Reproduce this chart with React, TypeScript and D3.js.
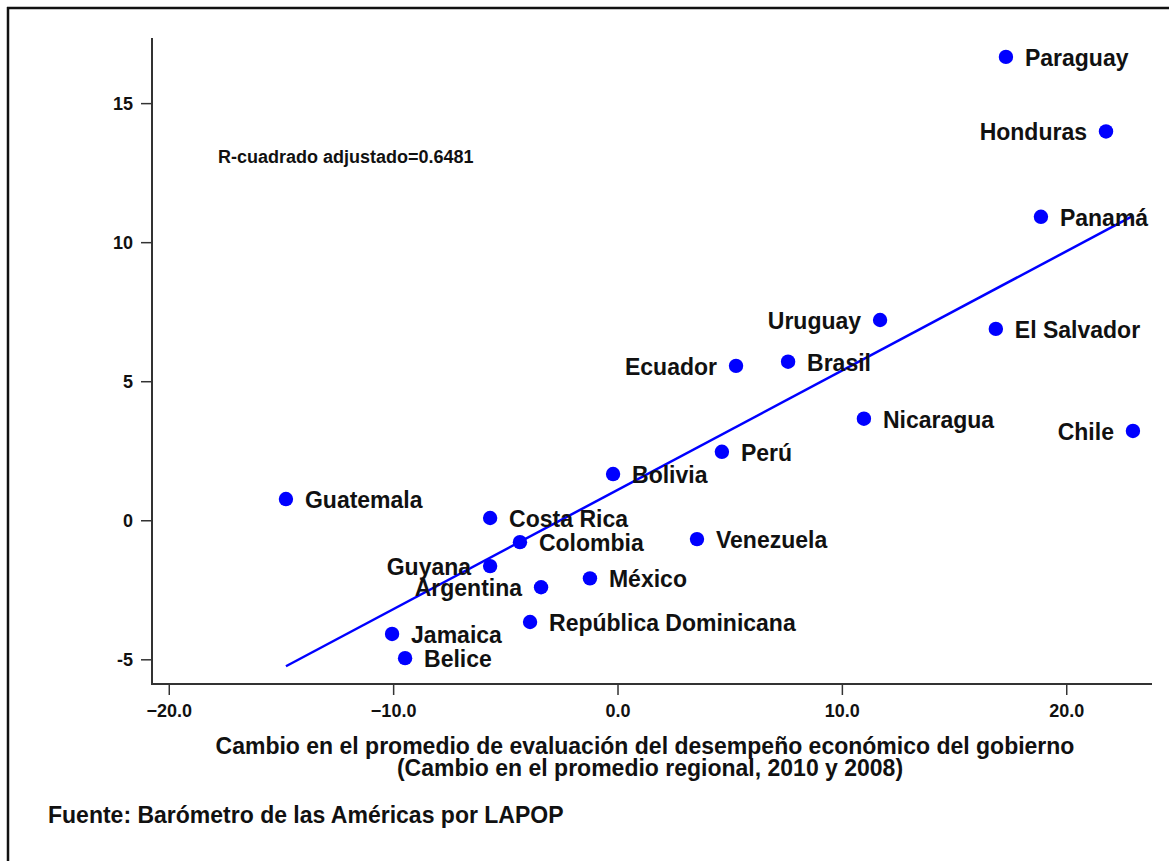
import React from "react";
import * as d3 from "d3";

const countries = [
  "Paraguay", "Honduras", "Panamá", "Uruguay", "El Salvador", "Ecuador", "Brasil",
  "Nicaragua", "Chile", "Perú", "Bolivia", "Guatemala", "Costa Rica", "Colombia",
  "Venezuela", "Guyana", "México", "Argentina", "República Dominicana", "Jamaica", "Belice",
];
const xValues = [
  17.29, 21.75, 18.85, 11.68, 16.84, 5.26, 7.58,
  10.96, 22.95, 4.63, -0.22, -14.8, -5.7, -4.37,
  3.52, -5.7, -1.25, -3.43, -3.92, -10.07, -9.49,
];
const yValues = [
  16.68, 14.0, 10.93, 7.22, 6.9, 5.57, 5.72,
  3.67, 3.23, 2.48, 1.68, 0.78, 0.1, -0.77,
  -0.66, -1.63, -2.07, -2.39, -3.64, -4.07, -4.94,
];
const leftLabelled = ["Honduras", "Uruguay", "Ecuador", "Chile", "Guyana", "Argentina"];
const xTicks = [-20, -10, 0, 10, 20];
const yTicks = [-5, 0, 5, 10, 15];
const xDomain = [-20.77, 23.8];
const yDomain = [-5.87, 17.36];
const rSquaredText = "R-cuadrado adjustado=0.6481";
const xTitle1 = "Cambio en el promedio de evaluación del desempeño económico del gobierno";
const xTitle2 = "(Cambio en el promedio regional, 2010 y 2008)";
const sourceText = "Fuente: Barómetro de las Américas por LAPOP";

const W = 1169;
const H = 861;
const FONT = "'Liberation Sans', Arial, Helvetica, sans-serif";
const BLUE = "#0000ff";
const AXIS = "#333";

export default function App() {
  const left = 152, right = 1152, top = 38, bottom = 684;
  const x = d3.scaleLinear().domain(xDomain).range([left, right]);
  const y = d3.scaleLinear().domain(yDomain).range([bottom, top]);

  const points = countries.map((c, i) => ({ name: c, x: xValues[i], y: yValues[i] }));

  // OLS regression fitted to the points
  const mx = d3.mean(xValues) as number;
  const my = d3.mean(yValues) as number;
  let sxy = 0, sxx = 0;
  xValues.forEach((v, i) => {
    sxy += (v - mx) * (yValues[i] - my);
    sxx += (v - mx) * (v - mx);
  });
  const slope = sxy / sxx;
  const intercept = my - slope * mx;
  const [x0, x1] = d3.extent(xValues) as [number, number];
  const fitLine = d3.line<number>().x((d) => x(d)).y((d) => y(intercept + slope * d));

  const fmtX = d3.format(".1f");

  return (
    <svg
      width={W}
      height={H}
      style={{ position: "absolute", left: 0, top: 0, background: "#fff" }}
      fontFamily={FONT}
    >
      <rect x={0} y={0} width={W} height={H} fill="#fff" />
      {/* frame */}
      <line x1={7} y1={8} x2={W} y2={8} stroke="#111" strokeWidth={2.5} />
      <line x1={8} y1={7} x2={8} y2={H} stroke="#111" strokeWidth={2.5} />

      {/* axes */}
      <line x1={left} y1={top} x2={left} y2={bottom} stroke={AXIS} strokeWidth={2} />
      <line x1={left - 1} y1={bottom} x2={right} y2={bottom} stroke={AXIS} strokeWidth={2} />
      {yTicks.map((t) => (
        <g key={"y" + t}>
          <line x1={left - 11} x2={left} y1={y(t)} y2={y(t)} stroke={AXIS} strokeWidth={1.5} />
          <text
            x={left - 19}
            y={y(t)}
            dy="0.35em"
            textAnchor="end"
            fontSize={18}
            fontWeight="bold"
            fill="#111"
          >
            {t}
          </text>
        </g>
      ))}
      {xTicks.map((t) => (
        <g key={"x" + t}>
          <line x1={x(t)} x2={x(t)} y1={bottom} y2={bottom + 11} stroke={AXIS} strokeWidth={1.5} />
          <text
            x={x(t)}
            y={bottom + 27}
            dy="0.35em"
            textAnchor="middle"
            fontSize={18}
            fontWeight="bold"
            fill="#111"
          >
            {fmtX(t)}
          </text>
        </g>
      ))}

      {/* regression line */}
      <path d={fitLine([x0, x1]) || ""} stroke={BLUE} strokeWidth={2.5} fill="none" />

      {/* points */}
      {points.map((p) => (
        <circle key={"c" + p.name} cx={x(p.x)} cy={y(p.y)} r={7.2} fill={BLUE} />
      ))}
      {points.map((p) => {
        const isLeft = leftLabelled.includes(p.name);
        return (
          <text
            key={"t" + p.name}
            x={x(p.x) + (isLeft ? -19 : 19)}
            y={y(p.y) + 9}
            textAnchor={isLeft ? "end" : "start"}
            fontSize={23}
            fontWeight="bold"
            fill="#111"
          >
            {p.name}
          </text>
        );
      })}

      <text x={218} y={163} fontSize={18} fontWeight="bold" fill="#111">
        {rSquaredText}
      </text>

      <text x={645} y={754} textAnchor="middle" fontSize={23} fontWeight="bold" fill="#111">
        {xTitle1}
      </text>
      <text x={650} y={776} textAnchor="middle" fontSize={23} fontWeight="bold" fill="#111">
        {xTitle2}
      </text>
      <text x={48} y={823} fontSize={23} fontWeight="bold" fill="#111">
        {sourceText}
      </text>
    </svg>
  );
}
